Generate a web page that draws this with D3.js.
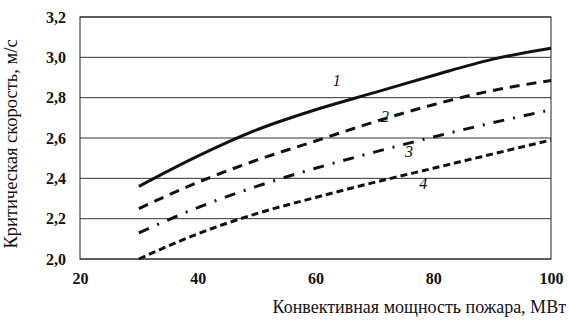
<!DOCTYPE html>
<html>
<head>
<meta charset="utf-8">
<script src="https://cdn.jsdelivr.net/npm/d3@7"></script>
<style>
  body { margin: 0; background: #fff; }
  text { font-family: "Liberation Serif", "Times New Roman", serif; }
</style>
</head>
<body>
<script>
// chart size
const width = 569;
const height = 323;
const margin = {top: 17, right: 18, bottom: 64, left: 80};

// data
const power = [30, 40, 50, 60, 70, 80, 90, 100];
const curve1 = [2.36, 2.51, 2.64, 2.74, 2.825, 2.91, 2.99, 3.045];
const curve2 = [2.25, 2.38, 2.49, 2.585, 2.68, 2.765, 2.835, 2.885];
const curve3 = [2.13, 2.255, 2.36, 2.45, 2.53, 2.605, 2.675, 2.74];
const curve4 = [2.0, 2.125, 2.225, 2.305, 2.38, 2.45, 2.52, 2.59];
const curveNames = ['1', '2', '3', '4'];
const labelPos = [[63.6, 2.858], [71.8, 2.68], [75.9, 2.506], [78.3, 2.347]];
const xTicks = [20, 40, 60, 80, 100];
const yTicks = [2.0, 2.2, 2.4, 2.6, 2.8, 3.0, 3.2];

const svg = d3.select('body')
  .append('svg')
  .attr('width', width)
  .attr('height', height);

const plotW = width - margin.left - margin.right;
const plotH = height - margin.top - margin.bottom;

const x = d3.scaleLinear().domain([20, 100]).range([0, plotW]);
const y = d3.scaleLinear().domain([2.0, 3.2]).range([plotH, 0]);

const g = svg.append('g')
  .attr('transform', 'translate(' + margin.left + ',' + margin.top + ')');

// horizontal grid
g.append('g')
  .selectAll('line')
  .data(yTicks)
  .join('line')
  .attr('x1', 0)
  .attr('x2', plotW)
  .attr('y1', d => y(d))
  .attr('y2', d => y(d))
  .attr('stroke', '#333')
  .attr('stroke-width', 1);

// frame
g.append('rect')
  .attr('width', plotW)
  .attr('height', plotH)
  .attr('fill', 'none')
  .attr('stroke', '#222')
  .attr('stroke-width', 1);

// axes (labels only, the lines are drawn by grid and frame)
const yAxis = g.append('g')
  .call(d3.axisLeft(y).tickValues(yTicks).tickSize(0).tickPadding(14)
    .tickFormat(d => d3.format('.1f')(d).replace('.', ',')));
const xAxis = g.append('g')
  .attr('transform', 'translate(0,' + plotH + ')')
  .call(d3.axisBottom(x).tickValues(xTicks).tickSize(0).tickPadding(14));

[yAxis, xAxis].forEach(a => {
  a.select('.domain').remove();
  a.selectAll('text')
    .style('font-family', '"Liberation Serif", serif')
    .style('font-size', '16px')
    .style('font-weight', 'bold')
    .attr('fill', '#111');
});

// curves
const series = [curve1, curve2, curve3, curve4];
const dashes = [null, '10,7', '11,9,2,9', '7,4'];

const line = d3.line()
  .x((d, i) => x(power[i]))
  .y(d => y(d))
  .curve(d3.curveMonotoneX);

series.forEach((s, i) => {
  g.append('path')
    .datum(s)
    .attr('fill', 'none')
    .attr('stroke', '#111')
    .attr('stroke-width', 3)
    .attr('stroke-dasharray', dashes[i])
    .attr('d', line);

  g.append('text')
    .attr('x', x(labelPos[i][0]))
    .attr('y', y(labelPos[i][1]))
    .attr('text-anchor', 'middle')
    .style('font-style', 'italic')
    .style('font-size', '16px')
    .attr('fill', '#111')
    .text(curveNames[i]);
});

// axis titles
svg.append('text')
  .attr('x', 566)
  .attr('y', 313)
  .attr('text-anchor', 'end')
  .style('font-size', '18px')
  .attr('fill', '#111')
  .text('Конвективная мощность пожара, МВт');

svg.append('text')
  .attr('transform', 'translate(17,144) rotate(-90)')
  .attr('text-anchor', 'middle')
  .style('font-size', '18.5px')
  .attr('fill', '#111')
  .text('Критическая скорость, м/с');
</script>
</body>
</html>
